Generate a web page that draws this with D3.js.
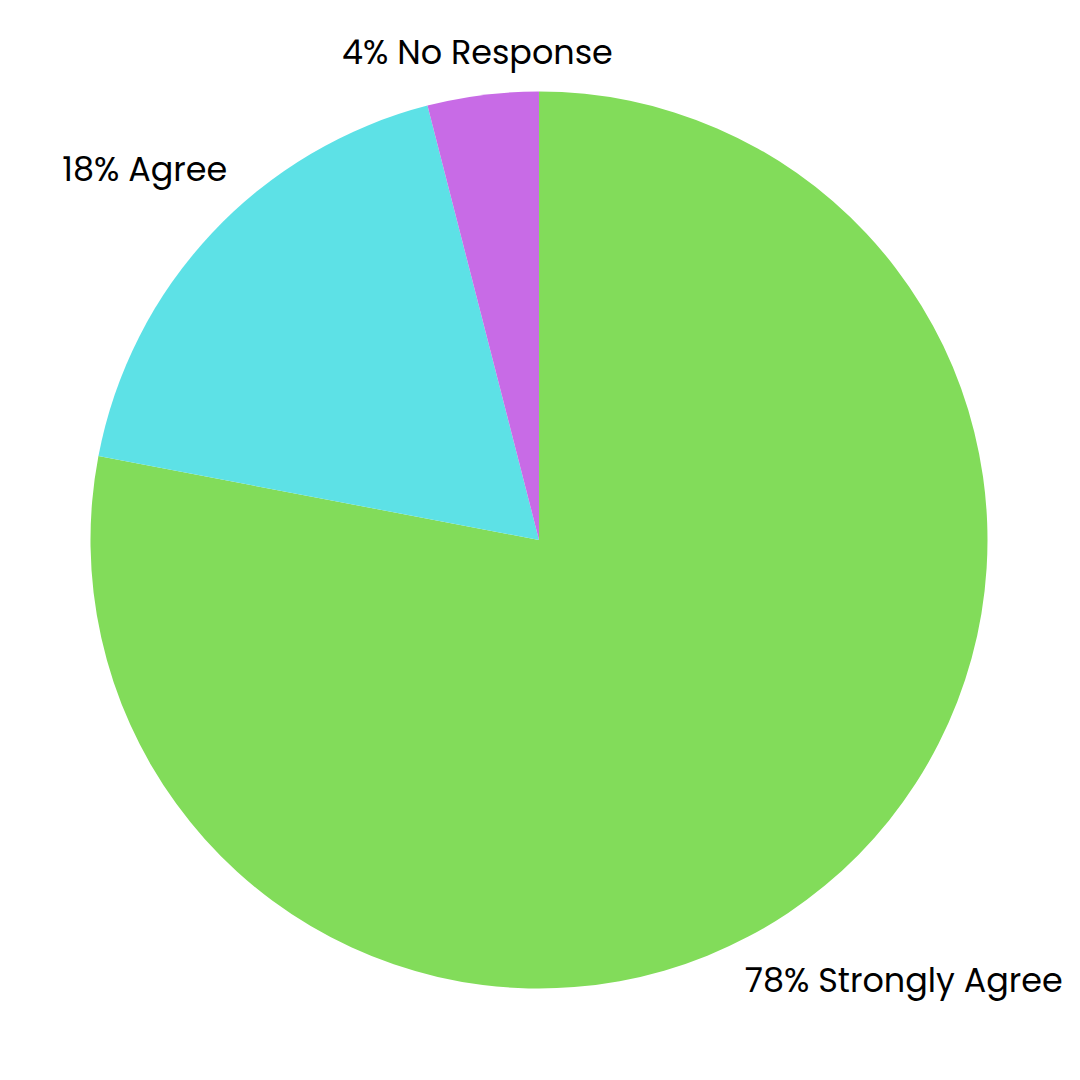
<!DOCTYPE html>
<html>
<head>
<meta charset="utf-8">
<script src="https://cdn.jsdelivr.net/npm/d3@7"></script>
<style>
  html, body { margin: 0; padding: 0; background: #ffffff; }
  svg { display: block; }
  text { font-family: "Poppins", "Inter", "Lato", sans-serif; font-size: 33.4px; fill: #000; }
</style>
</head>
<body>
<svg id="chart" width="1080" height="1080"></svg>
<script>
const categories = ["Strongly Agree", "Agree", "No Response"];
const values = [78, 18, 4];
const colors = ["#82DC5A", "#5DE1E6", "#C86BE6"];

const W = 1080, H = 1080;
const cx = 539, cy = 540, R = 448.5;
const labelGap = 472; // distance from centre to nearest point of label box

const data = categories.map((c, i) => ({ category: c, value: values[i], color: colors[i] }));

const svg = d3.select("#chart");
const g = svg.append("g").attr("transform", `translate(${cx},${cy})`);

const pie = d3.pie().value(d => d.value).sort(null);
const arcs = pie(data);
const arc = d3.arc().innerRadius(0).outerRadius(R);

g.selectAll("path.slice")
  .data(arcs)
  .join("path")
  .attr("class", "slice")
  .attr("d", arc)
  .attr("fill", d => d.data.color);

const labels = g.selectAll("text.label")
  .data(arcs)
  .join("text")
  .attr("class", "label")
  .attr("text-anchor", "middle")
  .attr("dominant-baseline", "central")
  .text(d => `${d.data.value}% ${d.data.category}`);

labels.each(function(d) {
  const bb = this.getBBox();
  const hw = bb.width / 2, hh = 16;
  const a = (d.startAngle + d.endAngle) / 2;
  const ux = Math.sin(a), uy = -Math.cos(a);
  const nearest = t => {
    const px = ux * t, py = uy * t;
    const nx = Math.max(0, Math.abs(px) - hw);
    const ny = Math.max(0, Math.abs(py) - hh);
    return Math.hypot(nx, ny);
  };
  let lo = 0, hi = 1000;
  for (let k = 0; k < 60; k++) {
    const mid = (lo + hi) / 2;
    if (nearest(mid) < labelGap) lo = mid; else hi = mid;
  }
  d3.select(this).attr("x", ux * lo).attr("y", uy * lo);
});
</script>
</body>
</html>
